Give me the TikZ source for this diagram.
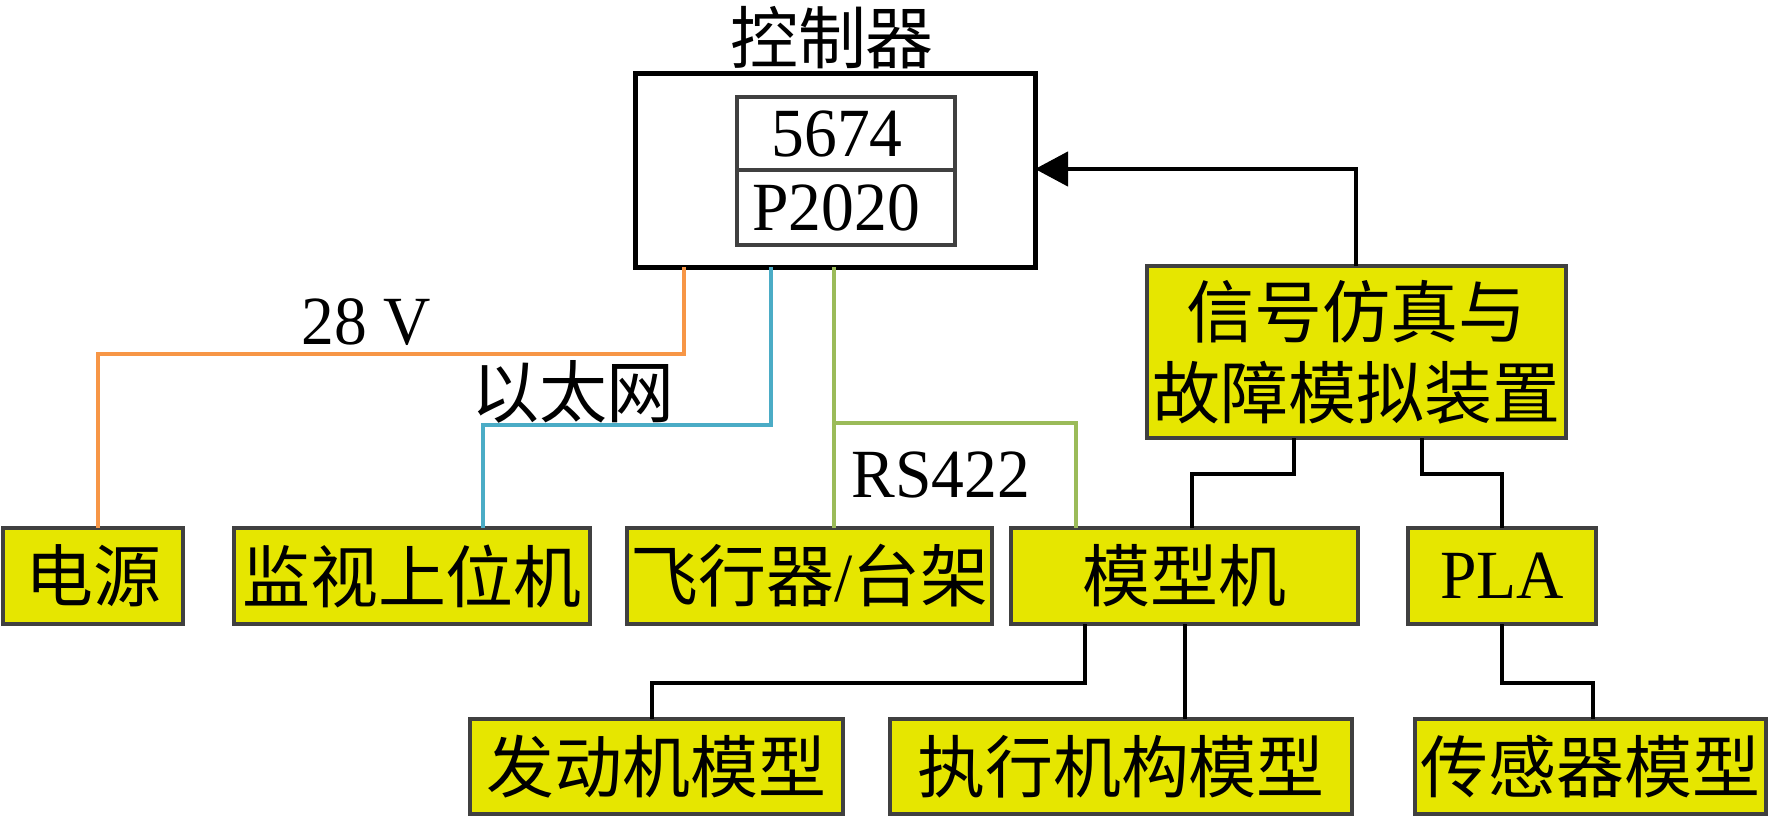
\documentclass[tikz,border=0pt]{standalone}
\usepackage{fontspec}
\setmainfont{Liberation Serif}[FakeStretch=0.95]
\newfontfamily\cjk{Noto Sans CJK SC}[Scale=0.985]
\usetikzlibrary{arrows.meta}
\definecolor{boxfill}{RGB}{230,230,0}
\definecolor{boxline}{RGB}{64,64,64}
\definecolor{wireorange}{RGB}{247,150,70}
\definecolor{wireblue}{RGB}{75,172,198}
\definecolor{wiregreen}{RGB}{155,187,89}
\begin{document}
\begin{tikzpicture}[x=1pt,y=1pt,
  every node/.style={font=\fontsize{69}{75}\selectfont, inner sep=0pt, outer sep=0pt},
  ybox/.style={draw=boxline, fill=boxfill, line width=4.5pt, minimum height=95pt},
  inbox/.style={draw=boxline, line width=4.5pt, minimum width=218pt},
  blk/.style={draw=black, line width=4.5pt},
  owire/.style={draw=wireorange, line width=4pt},
  bwire/.style={draw=wireblue, line width=4pt},
  gwire/.style={draw=wiregreen, line width=4pt},
  lbl/.style={}
]
\useasboundingbox (0,0) rectangle (1772,-817);

% controller
\node[draw=black, line width=5pt, minimum width=400pt, minimum height=194pt] (ctrl) at (835,-170) {};
\node[lbl] (ctrltitle) at (832,-38) {\cjk 控制器};
\node[inbox, minimum height=73pt] (c5674) at (846,-133.5) {};
\node[inbox, minimum height=75pt] (cp2020) at (846,-207.5) {};
\node[lbl] (t5674) at (837,-133.5) {5674};
\node[lbl] (tp2020) at (836,-207.5) {P2020};

% signal box
\node[ybox, minimum width=419pt, minimum height=172pt, align=center] (sig) at (1356.5,-352)
  {\cjk 信号仿真与\\[6pt]\cjk 故障模拟装置};

% middle row
\node[ybox, minimum width=180pt, minimum height=96pt] (power) at (93,-576) {\cjk 电源};
\node[ybox, minimum width=356pt, minimum height=96pt] (monitor) at (412,-576) {\cjk 监视上位机};
\node[ybox, minimum width=365pt, minimum height=96pt] (aircraft) at (809.5,-576) {{\cjk 飞行器}/{\cjk 台架}};
\node[ybox, minimum width=347pt, minimum height=96pt] (model) at (1184.5,-576) {\cjk 模型机};
\node[ybox, minimum width=188pt, minimum height=96pt] (pla) at (1502,-576) {PLA};

% bottom row
\node[ybox, minimum width=373pt] (engine) at (656.5,-766.5) {\cjk 发动机模型};
\node[ybox, minimum width=462pt] (actuator) at (1121,-766.5) {\cjk 执行机构模型};
\node[ybox, minimum width=351pt] (sensor) at (1590.5,-766.5) {\cjk 传感器模型};

% labels
\node[lbl] (l28) at (366,-322) {28 V};
\node[lbl] (leth) at (573,-392) {\cjk 以太网};
\node[lbl] (lrs) at (941,-475) {RS422};

% coloured wires
\draw[owire] (ctrl.south -| 684,0) |- (98,-354) -- (power.north -| 98,0);
\draw[bwire] (ctrl.south -| 771,0) |- (483,-425) -- (monitor.north -| 483,0);
\draw[gwire] (ctrl.south -| 834,0) -- (aircraft.north -| 834,0);
\draw[gwire] (834,-423) -| (model.north -| 1076,0);

% black connectors
\draw[blk, -{Triangle[length=33pt,width=34pt]}] (sig.north -| 1356,0) |- (ctrl.east |- 0,-169);
\draw[blk] (sig.south -| 1294,0) |- (1192,-474) -- (model.north -| 1192,0);
\draw[blk] (sig.south -| 1422,0) |- (1502,-474) -- (pla.north);
\draw[blk] (model.south -| 1085,0) |- (652,-683) -- (engine.north -| 652,0);
\draw[blk] (model.south -| 1185,0) -- (actuator.north -| 1185,0);
\draw[blk] (pla.south) |- (1593,-683) -- (sensor.north -| 1593,0);
\end{tikzpicture}
\end{document}
